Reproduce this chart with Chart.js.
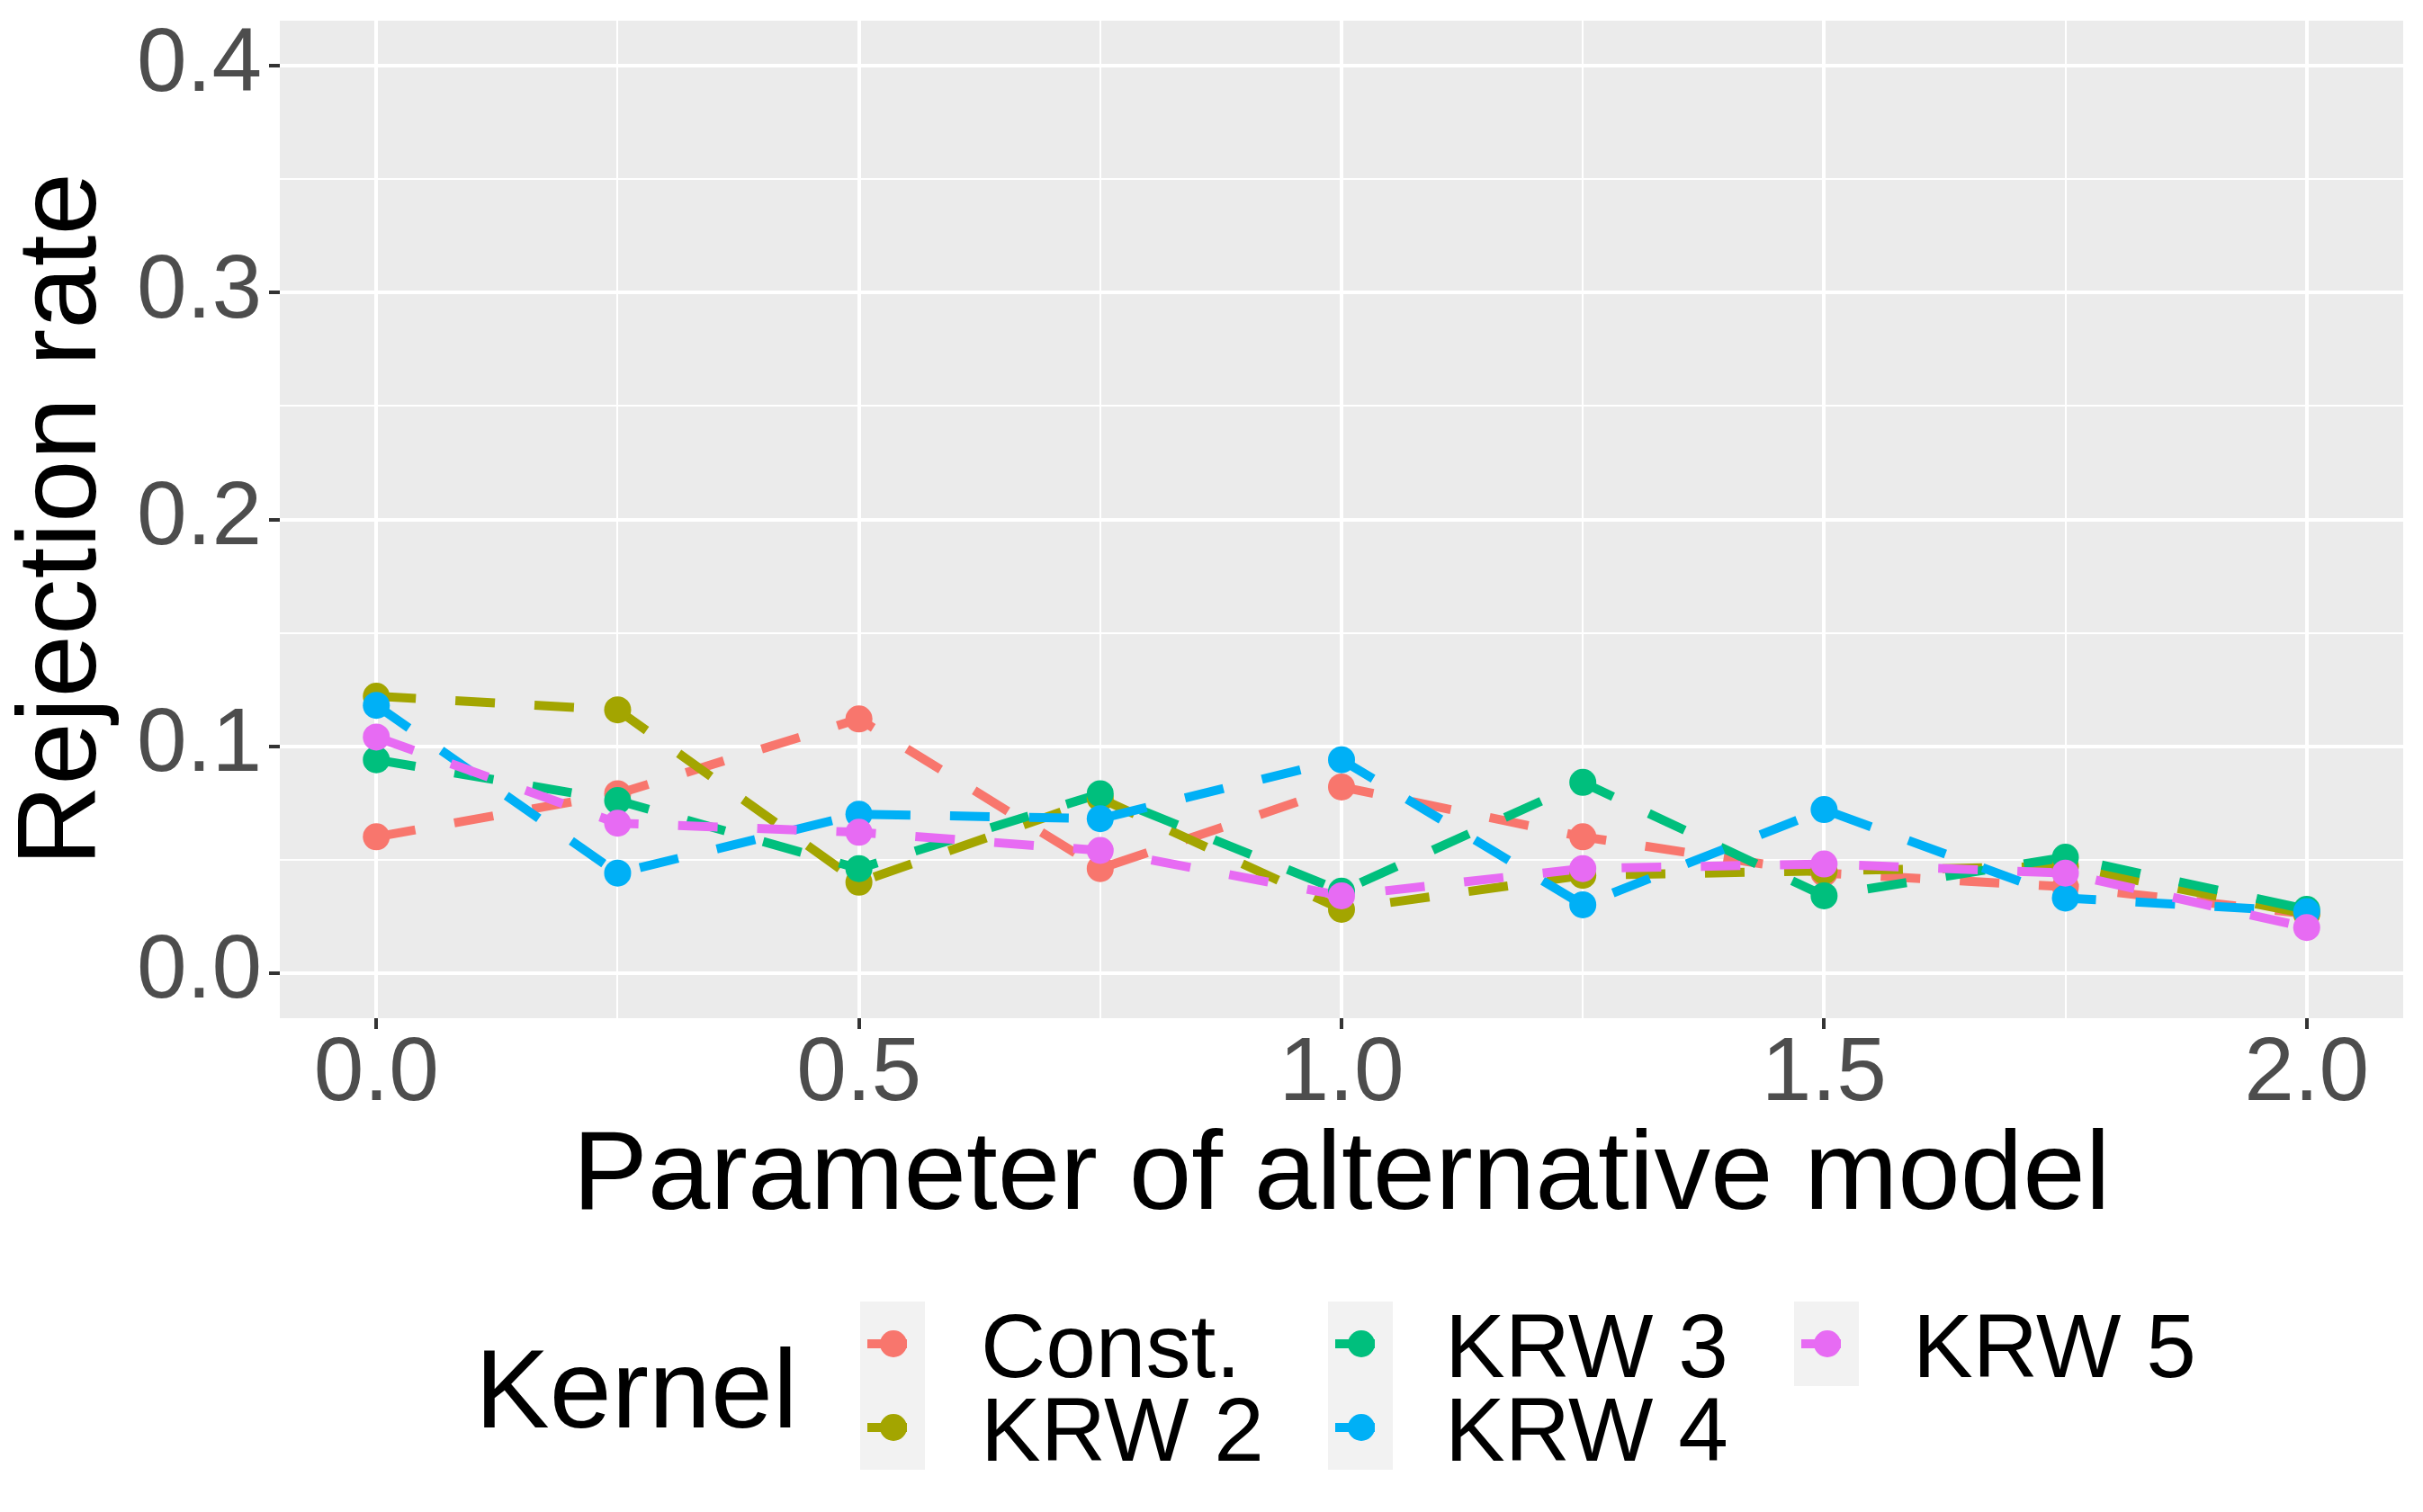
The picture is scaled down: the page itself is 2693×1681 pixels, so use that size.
<!DOCTYPE html>
<html lang="en">
<head>
    <meta charset="UTF-8">
    <title>Rejection rate</title>
    <style>
        body {
            margin: 0;
            background: #ffffff;
            overflow: hidden;
        }
        canvas {
            display: block;
        }
    </style>
</head>
<body>
    <canvas id="rateChart" width="2693" height="1681" style="width:2693px;height:1681px"></canvas>

    <script src="https://cdn.jsdelivr.net/npm/chart.js"></script>
    <script>
        // x values (parameter of alternative model)
        const params = [0, 0.25, 0.5, 0.75, 1, 1.25, 1.5, 1.75, 2];

        // rejection rates
        const constRate = [0.060, 0.079, 0.112, 0.046, 0.082, 0.060, 0.044, 0.038, 0.026];
        const krw2Rate = [0.122, 0.116, 0.040, 0.077, 0.028, 0.043, 0.045, 0.047, 0.026];
        const krw3Rate = [0.094, 0.076, 0.046, 0.079, 0.036, 0.084, 0.034, 0.051, 0.028];
        const krw4Rate = [0.118, 0.044, 0.070, 0.068, 0.094, 0.030, 0.072, 0.033, 0.027];
        const krw5Rate = [0.104, 0.066, 0.062, 0.054, 0.034, 0.046, 0.048, 0.044, 0.020];

        const seriesNames = ['Const.', 'KRW 2', 'KRW 3', 'KRW 4', 'KRW 5'];
        const seriesValues = [constRate, krw2Rate, krw3Rate, krw4Rate, krw5Rate];
        const seriesColors = ['#F8766D', '#A3A500', '#00BF7D', '#00B0F6', '#E76BF3'];

        // axis ticks
        const xMajor = [0, 0.5, 1, 1.5, 2];
        const xMinor = [0.25, 0.75, 1.25, 1.75];
        const yMajor = [0, 0.1, 0.2, 0.3, 0.4];
        const yMinor = [0.05, 0.15, 0.25, 0.35];

        const FONT = "'Liberation Sans', Arial, Helvetica, sans-serif";

        const isMajor = (list, v) => list.some(m => Math.abs(m - v) < 1e-9);

        // lines first for every series, then all points on top (like ggplot layers)
        const datasets = [];
        seriesValues.forEach((vals, i) => {
            datasets.push({
                label: seriesNames[i],
                data: params.map((p, j) => ({ x: p, y: vals[j] })),
                borderColor: seriesColors[i],
                borderWidth: 10,
                borderDash: [44, 44],
                borderJoinStyle: 'round',
                pointRadius: 0,
                fill: false,
                order: 20 - i
            });
        });
        seriesValues.forEach((vals, i) => {
            datasets.push({
                label: seriesNames[i] + ' pts',
                data: params.map((p, j) => ({ x: p, y: vals[j] })),
                showLine: false,
                pointRadius: 15,
                pointBorderWidth: 0,
                pointBackgroundColor: seriesColors[i],
                borderColor: seriesColors[i],
                order: 10 - i
            });
        });

        const panelBg = {
            id: 'panelBg',
            beforeDraw(chart) {
                const { ctx, chartArea: a } = chart;
                ctx.save();
                ctx.fillStyle = '#EBEBEB';
                ctx.fillRect(a.left, a.top, a.right - a.left, a.bottom - a.top);
                ctx.restore();
            }
        };

        // ggplot style legend: title on the left, keys in columns
        const kernelLegend = {
            id: 'kernelLegend',
            afterDraw(chart) {
                const ctx = chart.ctx;
                ctx.save();
                ctx.fillStyle = '#000000';
                ctx.textBaseline = 'alphabetic';
                ctx.textAlign = 'left';
                ctx.font = '124px ' + FONT;
                ctx.fillText('Kernel', 528, 1587);

                const cols = [956, 1476, 1994];
                const labelX = [1090, 1606, 2126];
                const rows = [1494, 1587];
                const keyW = 72, keyH = 94;

                seriesNames.forEach((name, i) => {
                    const c = Math.floor(i / 2), r = i % 2;
                    const bx = cols[c], cy = rows[r];
                    ctx.fillStyle = '#F2F2F2';
                    ctx.fillRect(bx, cy - keyH / 2, keyW, keyH);
                });
                seriesNames.forEach((name, i) => {
                    const c = Math.floor(i / 2), r = i % 2;
                    const bx = cols[c], cy = rows[r];
                    ctx.strokeStyle = seriesColors[i];
                    ctx.lineWidth = 10;
                    ctx.beginPath();
                    ctx.moveTo(bx + 8, cy);
                    ctx.lineTo(bx + 52, cy);
                    ctx.stroke();
                    ctx.fillStyle = seriesColors[i];
                    ctx.beginPath();
                    ctx.arc(bx + 37, cy, 15, 0, Math.PI * 2);
                    ctx.fill();
                    ctx.fillStyle = '#000000';
                    ctx.font = '100px ' + FONT;
                    ctx.fillText(name, labelX[c], cy + 37);
                });
                ctx.restore();
            }
        };

        const rateChart = new Chart(document.getElementById('rateChart').getContext('2d'), {
            type: 'line',
            data: { datasets: datasets },
            options: {
                responsive: false,
                devicePixelRatio: 1,
                animation: false,
                events: [],
                layout: { padding: { left: 0, top: 23, right: 22, bottom: 289 } },
                plugins: {
                    legend: { display: false },
                    tooltip: { enabled: false }
                },
                scales: {
                    x: {
                        type: 'linear',
                        min: -0.1,
                        max: 2.1,
                        border: { display: false },
                        afterBuildTicks: s => {
                            s.ticks = xMajor.concat(xMinor).sort((a, b) => a - b).map(v => ({ value: v }));
                        },
                        afterFit: s => {
                            s.height = 260;
                            s.paddingLeft = 0;
                            s.paddingRight = 0;
                        },
                        grid: {
                            color: '#FFFFFF',
                            lineWidth: c => isMajor(xMajor, c.tick.value) ? 4 : 2,
                            drawTicks: true,
                            tickLength: 12,
                            tickWidth: 4,
                            tickColor: c => isMajor(xMajor, c.tick.value) ? '#333333' : 'rgba(0,0,0,0)'
                        },
                        ticks: {
                            autoSkip: false,
                            maxRotation: 0,
                            padding: 1,
                            color: '#4D4D4D',
                            font: { family: FONT, size: 100, lineHeight: 1 },
                            callback: v => isMajor(xMajor, v) ? v.toFixed(1) : ''
                        },
                        title: {
                            display: true,
                            text: 'Parameter of alternative model',
                            color: '#000000',
                            font: { family: FONT, size: 125, lineHeight: 1.2 },
                            padding: { top: 0, bottom: 7 }
                        }
                    },
                    y: {
                        type: 'linear',
                        min: -0.02,
                        max: 0.42,
                        border: { display: false },
                        afterBuildTicks: s => {
                            s.ticks = yMajor.concat(yMinor).sort((a, b) => a - b).map(v => ({ value: v }));
                        },
                        afterFit: s => {
                            s.width = 311;
                            s.paddingTop = 0;
                            s.paddingBottom = 0;
                        },
                        grid: {
                            color: '#FFFFFF',
                            lineWidth: c => isMajor(yMajor, c.tick.value) ? 4 : 2,
                            drawTicks: true,
                            tickLength: 12,
                            tickWidth: 4,
                            tickColor: c => isMajor(yMajor, c.tick.value) ? '#333333' : 'rgba(0,0,0,0)'
                        },
                        ticks: {
                            autoSkip: false,
                            padding: 8,
                            color: '#4D4D4D',
                            font: { family: FONT, size: 100, lineHeight: 1 },
                            callback: v => isMajor(yMajor, v) ? v.toFixed(1) : ''
                        },
                        title: {
                            display: true,
                            text: 'Rejection rate',
                            color: '#000000',
                            font: { family: FONT, size: 125, lineHeight: 1.15 },
                            padding: { top: 0, bottom: 0 }
                        }
                    }
                }
            },
            plugins: [panelBg, kernelLegend]
        });
    </script>
</body>
</html>
